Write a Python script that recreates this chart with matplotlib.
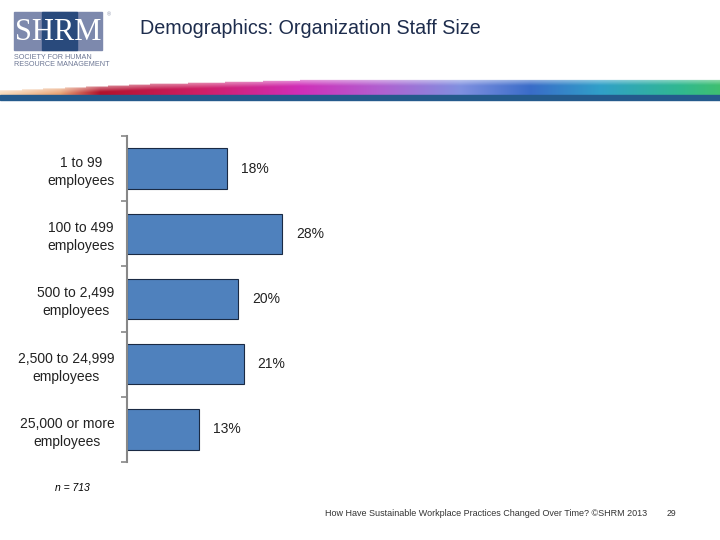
import numpy as np
import matplotlib.pyplot as plt
from matplotlib.patches import Rectangle

plt.rcParams['font.family'] = ['Liberation Sans', 'DejaVu Sans']

# data
categories = ['1 to 99\nemployees', '100 to 499\nemployees', '500 to 2,499\nemployees',
              '2,500 to 24,999\nemployees', '25,000 or more\nemployees']
percents = [18, 28, 20, 21, 13]
title = 'Demographics: Organization Staff Size'
n_note = 'n = 713'
footer = 'How Have Sustainable Workplace Practices Changed Over Time? ©SHRM 2013'
page_no = '29'

fig = plt.figure(figsize=(7.2, 5.4), dpi=100)

# header overlay in pixel coordinates
hdr = fig.add_axes([0, 0, 1, 1], zorder=0)
hdr.set_xlim(0, 720)
hdr.set_ylim(540, 0)
hdr.axis('off')

# SHRM logo
hdr.add_patch(Rectangle((14, 12), 88, 38, color='#7d89ad'))
hdr.add_patch(Rectangle((42, 12), 35, 38, color='#294a7c'))
hdr.text(58, 32, 'SHRM', color='white', fontsize=22, family='Liberation Serif',
         ha='center', va='center')
hdr.text(109, 15, '®', color='#8890a8', fontsize=4, ha='center', va='center')
hdr.text(14, 57.5, 'SOCIETY FOR HUMAN', color='#6d7794', fontsize=5.2, va='center')
hdr.text(14, 65, 'RESOURCE MANAGEMENT', color='#6d7794', fontsize=5.2, va='center')

hdr.text(140, 29, title, color='#1e2d4d', fontsize=14.2, va='center', ha='left')

# colour swoosh band
stops_x = [0, 60, 100, 200, 300, 380, 460, 530, 600, 680, 720]
stops_c = ['#f4d0a8', '#e8a070', '#b3122c', '#cf1f66', '#d02fb8', '#b060d0',
           '#8090e0', '#3a6cc8', '#30a0c8', '#30b890', '#40c070']
rgb = np.array([[int(c[i:i + 2], 16) / 255 for i in (1, 3, 5)] for c in stops_c])
xs = np.arange(720)
ys = np.arange(78, 96)
img = np.ones((len(ys), len(xs), 4))
for k in range(3):
    img[:, :, k] = np.interp(xs, stops_x, rgb[:, k])[None, :]
top_edge = np.interp(xs, [0, 150, 300, 720], [91, 84, 80, 79])
yy = ys[:, None] + 0 * xs[None, :]
shade = 0.55 + 0.45 * np.clip((yy - top_edge[None, :]) / 6.0, 0, 1)
img[:, :, :3] = img[:, :, :3] * shade[..., None] + (1 - shade[..., None])
img[:, :, 3] = (yy >= top_edge[None, :]).astype(float)
hdr.imshow(img, extent=(0, 720, 95, 78), aspect='auto', interpolation='bilinear')
hdr.add_patch(Rectangle((0, 95), 720, 5, color='#245a8c'))

# notes
hdr.text(55, 488, n_note, fontsize=7.5, style='italic', va='center')
hdr.text(325, 513, footer, fontsize=6.5, color='#333333', va='center')
hdr.text(667, 514, page_no, fontsize=6.2, color='#333333', va='center')

# bar chart
ax = fig.add_axes([127 / 720, 1 - 462 / 540, 222 / 720, 326 / 540], zorder=1)
ax.patch.set_alpha(0)
y = np.arange(len(categories))
bars = ax.barh(y, percents, height=0.62, color='#4f81bd', edgecolor='#1a2a44', linewidth=0.8)
ax.bar_label(bars, labels=[f'{p}%' for p in percents], padding=10, fontsize=10, color='#222222')
ax.set_xlim(0, 40)
ax.set_ylim(len(categories) - 0.5, -0.5)

for s in ['top', 'right', 'bottom']:
    ax.spines[s].set_visible(False)
ax.spines['left'].set_color('#888888')
ax.spines['left'].set_linewidth(1.5)
ax.set_xticks([])
ax.set_yticks(np.arange(len(categories) + 1) - 0.5)
ax.set_yticklabels([])
ax.tick_params(axis='y', which='major', length=4, color='#888888', width=1.2)
ax.set_yticks(y, minor=True)
ax.set_yticklabels(categories, minor=True, fontsize=10, multialignment='center',
                   linespacing=1.35, color='#222222')
ax.tick_params(axis='y', which='minor', length=0, pad=9)

plt.savefig('out.png', dpi=100)
